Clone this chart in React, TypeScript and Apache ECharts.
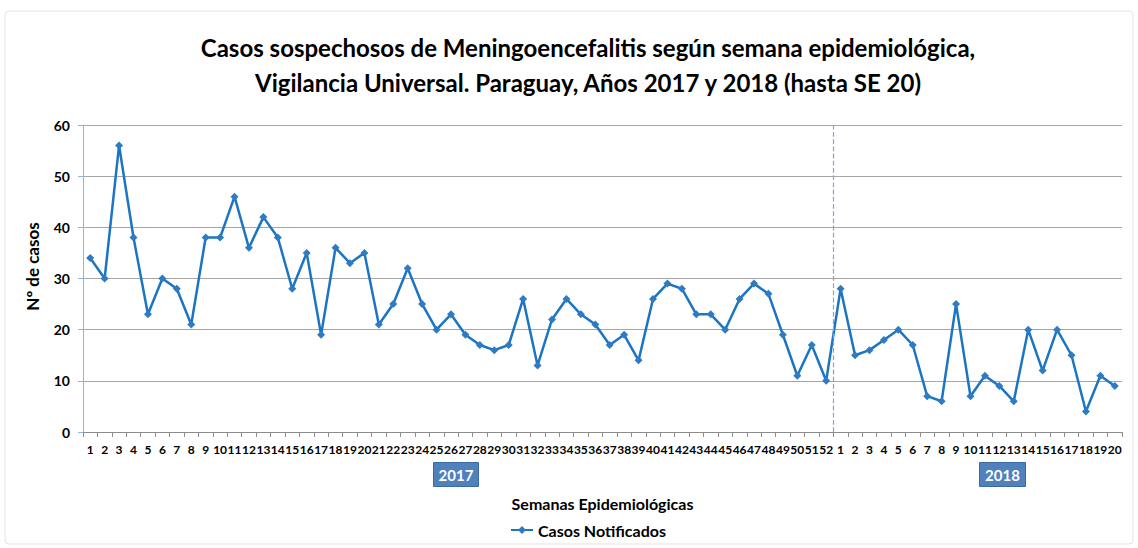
import React, { useEffect, useRef } from "react";
import * as echarts from "echarts";

const weeks2017: string[] = Array.from({ length: 52 }, (_, i) => String(i + 1));
const weeks2018: string[] = Array.from({ length: 20 }, (_, i) => String(i + 1));
const categories: string[] = [...weeks2017, ...weeks2018];

const cases2017: number[] = [
  34, 30, 56, 38, 23, 30, 28, 21, 38, 38, 46, 36, 42, 38, 28, 35, 19, 36, 33, 35,
  21, 25, 32, 25, 20, 23, 19, 17, 16, 17, 26, 13, 22, 26, 23, 21, 17, 19, 14, 26,
  29, 28, 23, 23, 20, 26, 29, 27, 19, 11, 17, 10,
];
const cases2018: number[] = [
  28, 15, 16, 18, 20, 17, 7, 6, 25, 7, 11, 9, 6, 20, 12, 20, 15, 4, 11, 9,
];
const cases: number[] = [...cases2017, ...cases2018];

const yTicks = { min: 0, max: 60, interval: 10 };
const yearLabels = ["2017", "2018"];

const FONT = "Lato, 'Open Sans', sans-serif";

export default function App() {
  const ref = useRef<HTMLDivElement>(null);
  useEffect(() => {
    document.body.style.margin = "0";
    const chart = echarts.init(ref.current!, null, { renderer: "svg" });
    chart.setOption({
      animation: false,
      backgroundColor: "#fff",
      textStyle: { fontFamily: FONT },
      title: {
        text: "Casos sospechosos de Meningoencefalitis según semana epidemiológica,\nVigilancia Universal. Paraguay, Años 2017 y 2018 (hasta SE 20)",
        left: 583,
        textAlign: "center",
        top: 25,
        textStyle: {
          fontFamily: FONT,
          fontWeight: "bold",
          fontSize: 24,
          lineHeight: 35,
          color: "#000",
        },
      },
      legend: {
        bottom: 5,
        left: 505,
        itemWidth: 22,
        itemHeight: 10,
        itemGap: 2,
        textStyle: { fontFamily: FONT, fontWeight: "bold", fontSize: 16, color: "#000" },
        data: ["Casos Notificados"],
      },
      grid: { left: 83, right: 16, top: 125, bottom: 116, containLabel: false },
      xAxis: [
        {
          type: "category",
          data: categories,
          boundaryGap: true,
          axisLine: { lineStyle: { color: "#8c8c8c", width: 1 } },
          axisTick: { show: true, alignWithLabel: false, length: 5, lineStyle: { color: "#8c8c8c" } },
          axisLabel: {
            interval: 0,
            fontFamily: FONT,
            fontWeight: "bold",
            fontSize: 12,
            color: "#000",
            margin: 11,
          },
          name: "Semanas Epidemiológicas",
          nameLocation: "middle",
          nameGap: 63,
          nameTextStyle: { fontFamily: FONT, fontWeight: "bold", fontSize: 16, color: "#000" },
        },
        {
          type: "value",
          min: 0,
          max: 72,
          show: false,
          position: "bottom",
        },
      ],
      yAxis: {
        type: "value",
        min: yTicks.min,
        max: yTicks.max,
        interval: yTicks.interval,
        axisLine: { show: true, lineStyle: { color: "#8fb4e0", width: 1 } },
        axisTick: { show: true, length: 5, lineStyle: { color: "#8fb4e0" } },
        splitLine: { lineStyle: { color: "#a6a6a6", width: 1 } },
        axisLabel: { fontFamily: FONT, fontWeight: "bold", fontSize: 14, color: "#000", margin: 13 },
        name: "Nº de casos",
        nameLocation: "middle",
        nameGap: 42,
        nameTextStyle: {
          fontFamily: FONT,
          fontWeight: "bold",
          fontSize: 17,
          color: "#000",
          padding: [0, 0, 0, 24],
        },
      },
      series: [
        {
          name: "Casos Notificados",
          type: "line",
          data: cases,
          xAxisIndex: 0,
          symbol: "diamond",
          symbolSize: 8,
          lineStyle: { color: "#1c75c3", width: 2.5 },
          itemStyle: { color: "#2e7bc4" },
        },
        {
          name: "divider",
          type: "line",
          xAxisIndex: 1,
          data: [],
          markLine: {
            silent: true,
            symbol: "none",
            label: { show: false },
            lineStyle: { color: "#7fa6d6", type: "dashed", width: 1.2 },
            data: [{ xAxis: weeks2017.length }],
          },
        },
      ],
      graphic: [
        {
          type: "rect",
          shape: { x: 5, y: 11, width: 1128, height: 533, r: 4 },
          style: { fill: "none", stroke: "#e3e3e3", lineWidth: 1 },
          silent: true,
        },
        {
          type: "group",
          left: 433,
          top: 462,
          children: [
            {
              type: "rect",
              shape: { x: 0, y: 0, width: 45, height: 24 },
              style: { fill: "#4f81bd", stroke: "#3a6aa0", lineWidth: 1 },
            },
            {
              type: "text",
              x: 22.5,
              y: 12,
              style: {
                text: yearLabels[0],
                fill: "#fff",
                font: `bold 15px ${FONT}`,
                align: "center",
                verticalAlign: "middle",
              },
            },
          ],
        },
        {
          type: "group",
          left: 979,
          top: 462,
          children: [
            {
              type: "rect",
              shape: { x: 0, y: 0, width: 46, height: 24 },
              style: { fill: "#4f81bd", stroke: "#3a6aa0", lineWidth: 1 },
            },
            {
              type: "text",
              x: 23,
              y: 12,
              style: {
                text: yearLabels[1],
                fill: "#fff",
                font: `bold 15px ${FONT}`,
                align: "center",
                verticalAlign: "middle",
              },
            },
          ],
        },
      ],
    });
    return () => chart.dispose();
  }, []);
  return <div ref={ref} style={{ width: 1138, height: 548 }} />;
}
